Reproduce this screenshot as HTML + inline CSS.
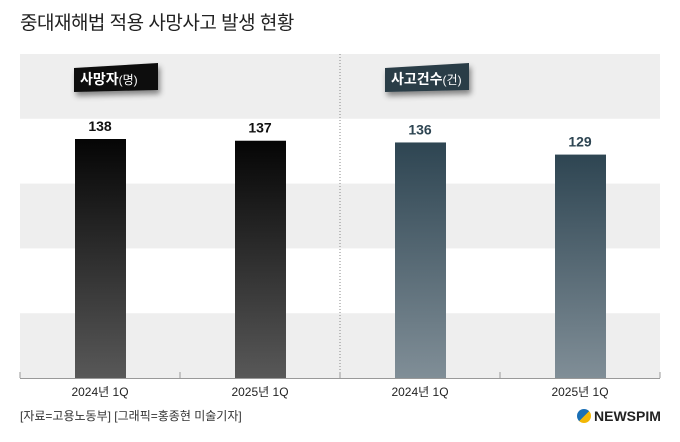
<!DOCTYPE html>
<html><head><meta charset="utf-8"><style>
body{margin:0;width:680px;height:442px;background:#fff;font-family:"Liberation Sans","Noto Sans CJK KR",sans-serif;overflow:hidden;position:relative}
.t{position:absolute}
</style></head><body>
<div class="t" style="left:20px;top:8px;font-size:19px;color:#222;letter-spacing:-0.5px">중대재해법 적용 사망사고 발생 현황</div>
<svg id="c" width="680" height="442" style="position:absolute;left:0;top:0">
<defs>
<linearGradient id="g1" x1="0" y1="0" x2="0" y2="1"><stop offset="0" stop-color="#050505"/><stop offset="1" stop-color="#585858"/></linearGradient>
<linearGradient id="g2" x1="0" y1="0" x2="0" y2="1"><stop offset="0" stop-color="#2e4552"/><stop offset="1" stop-color="#808e97"/></linearGradient>
<filter id="sh" x="-20%" y="-20%" width="150%" height="180%"><feDropShadow dx="2" dy="4" stdDeviation="3" flood-opacity="0.45"/></filter>
</defs>
</svg>
<div class="t" style="left:20px;top:407px;font-size:12px;color:#333">[자료=고용노동부] [그래픽=홍종현 미술기자]</div>
<div class="t" style="left:577px;top:408px;font-size:14px;font-weight:bold;color:#222;display:flex;align-items:center;gap:3px"><span style="display:inline-block;width:14px;height:14px;border-radius:50%;background:linear-gradient(135deg,#1a6fb5 50%,#f2b705 50%)"></span>NEWSPIM</div>
<script>
const categories=["2024년 1Q","2025년 1Q","2024년 1Q","2025년 1Q"];
const deaths=[138,137];
const accidents=[136,129];
const values=deaths.concat(accidents);
const NS="http://www.w3.org/2000/svg";
const svg=document.getElementById('c');
const base=378,scale=239/138;
const y=v=>base-v*scale;
const x=i=>20+80+i*160;
function mk(t,a){const e=document.createElementNS(NS,t);for(const k in a)e.setAttribute(k,a[k]);svg.appendChild(e);return e;}
for(let i=0;i<5;i++){if(i%2==0){const r=mk('rect',{x:20,y:54+i*64.8,width:640,height:64.8,fill:'#eeeeee'});}}
const dv=mk('line',{x1:340,y1:54,x2:340,y2:378,stroke:'#888','stroke-dasharray':'1,2'});


const ax=mk('line',{x1:20,y1:378.5,x2:660,y2:378.5,stroke:'#999'});


[20,180,340,500,660].forEach(t=>{const tk=mk('line',{x1:t,y1:372,x2:t,y2:378,stroke:'#999'});});
values.forEach((v,i)=>{
 const b=mk('rect',{x:x(i)-25,y:y(v),width:51,height:base-y(v),fill:i<2?'url(#g1)':'url(#g2)'});
 
 
 const l=mk('text',{x:x(i),y:y(v)-8,'text-anchor':'middle','font-size':14,'font-weight':'bold',fill:i<2?'#111':'#2e4552'});
 l.textContent=v;
 
 
 const c=mk('text',{x:x(i),y:396,'text-anchor':'middle','font-size':12,fill:'#222'});
 c.textContent=categories[i];
 
 
});
[[74,'#111','사망자','(명)'],[385,'#2c3d47','사고건수','(건)']].forEach(([lx,col,a,b])=>{
 const g=document.createElementNS(NS,'g');svg.appendChild(g);
 
 
 const p=document.createElementNS(NS,'path');
 p.setAttribute('d',`M${lx} 68 L${lx+84} 63 L${lx+84} 90 L${lx} 92 Z`);
 p.setAttribute('fill',col);p.setAttribute('filter','url(#sh)');g.appendChild(p);
 const t=document.createElementNS(NS,'text');
 t.setAttribute('x',lx+6);t.setAttribute('y',84);t.setAttribute('fill','#fff');t.setAttribute('font-size',14);t.setAttribute('font-weight','bold');
 t.innerHTML=a+'<tspan font-weight="normal" font-size="12">'+b+'</tspan>';g.appendChild(t);
});
</script>
</body></html>
